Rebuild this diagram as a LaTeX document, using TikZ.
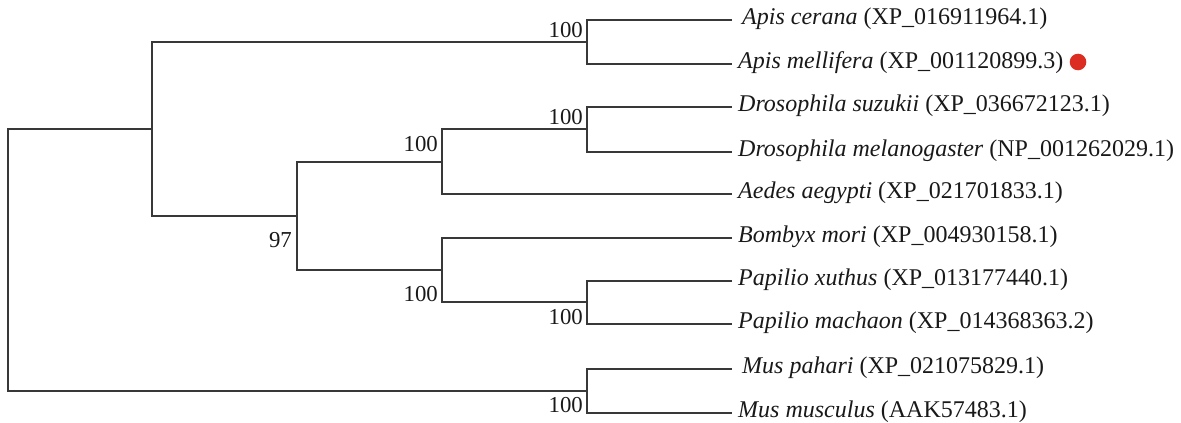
\documentclass[tikz,border=0pt]{standalone}
\usepackage{fontspec}
\setmainfont{Liberation Serif}
\begin{document}
\begin{tikzpicture}[x=1pt,y=-1pt,
  branch/.style={draw=black!78, line width=1.2pt},
  leaf/.style={anchor=west, inner sep=0pt, font=\fontsize{24}{26}\selectfont, text=black!90},
  boot/.style={anchor=base east, inner sep=0pt, font=\fontsize{22.8}{24}\selectfont, text=black!90}]
\useasboundingbox (0,0) rectangle (1181,423);
% leaves
\node[leaf] (l1) at (742,19) {\textit{Apis cerana} (XP\_016911964.1)};
\node[leaf] (l2) at (738,63) {\textit{Apis mellifera} (XP\_001120899.3)};
\node[leaf] (l3) at (738,106) {\textit{Drosophila suzukii} (XP\_036672123.1)};
\node[leaf] (l4) at (738,151) {\textit{Drosophila melanogaster} (NP\_001262029.1)};
\node[leaf] (l5) at (738,193) {\textit{Aedes aegypti} (XP\_021701833.1)};
\node[leaf] (l6) at (738,237) {\textit{Bombyx mori} (XP\_004930158.1)};
\node[leaf] (l7) at (738,280) {\textit{Papilio xuthus} (XP\_013177440.1)};
\node[leaf] (l8) at (738,323) {\textit{Papilio machaon} (XP\_014368363.2)};
\node[leaf] (l9) at (742,368) {\textit{Mus pahari} (XP\_021075829.1)};
\node[leaf] (l10) at (738,412) {\textit{Mus musculus} (AAK57483.1)};
\fill[fill={rgb,255:red,220;green,45;blue,35}] (1078,62) circle (8.3);
% leaf ends
\foreach \i/\y in {1/20,2/64,3/107,4/152,5/194,6/238,7/281,8/324,9/369,10/413}
  \coordinate (e\i) at (732,\y);
% internal nodes (x of vertical bar, y of midpoint)
\coordinate (apis) at (587,42);
\coordinate (dros) at (587,129);
\coordinate (dra) at (442,162);
\coordinate (pap) at (587,302);
\coordinate (bp) at (442,270);
\coordinate (ins) at (297,216);
\coordinate (top) at (152,129);
\coordinate (mus) at (587,391);
\coordinate (root) at (8,260);
% branches
\draw[branch] (e1) -| (apis |- e1) -- (apis |- e2) -- (e2);
\draw[branch] (e3) -| (dros |- e3) -- (dros |- e4) -- (e4);
\draw[branch] (dros) -| (dra |- dros) -- (dra |- e5) -- (e5);
\draw[branch] (e7) -| (pap |- e7) -- (pap |- e8) -- (e8);
\draw[branch] (e6) -| (bp |- e6) -- (bp |- pap) -- (pap);
\draw[branch] (dra) -| (ins |- dra) -- (ins |- bp) -- (bp);
\draw[branch] (apis) -| (top |- apis) -- (top |- ins) -- (ins);
\draw[branch] (e9) -| (mus |- e9) -- (mus |- e10) -- (e10);
\draw[branch] (top) -| (root |- top) -- (root |- mus) -- (mus);
% bootstrap values
\node[boot] (b1) at (583,37) {100};
\node[boot] (b2) at (583,124) {100};
\node[boot] (b3) at (438,151) {100};
\node[boot] (b4) at (292,247) {97};
\node[boot] (b5) at (438,301) {100};
\node[boot] (b6) at (583,324) {100};
\node[boot] (b7) at (583,412) {100};
\end{tikzpicture}
\end{document}
